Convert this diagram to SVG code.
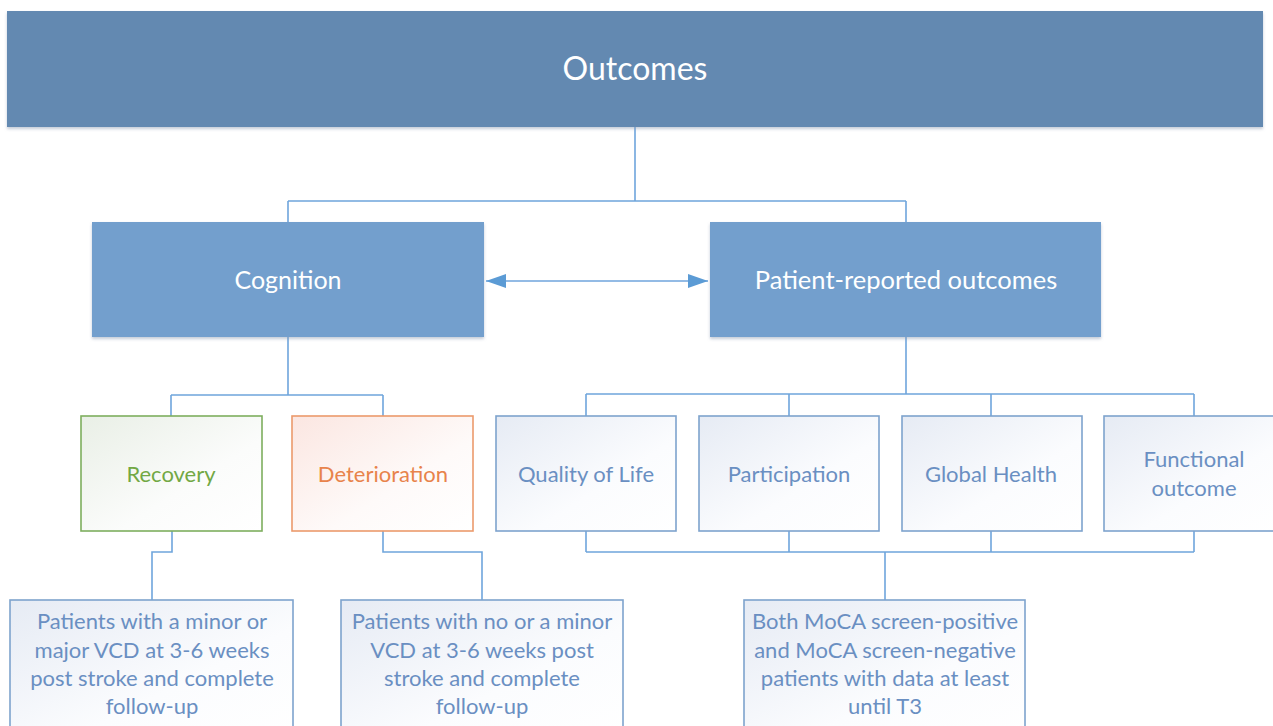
<svg xmlns="http://www.w3.org/2000/svg" width="1273" height="726" viewBox="0 0 1273 726">
  <defs>
    <linearGradient id="gBlue" x1="0" y1="0" x2="1" y2="1">
      <stop offset="0" stop-color="#e6ebf4"/>
      <stop offset="0.6" stop-color="#fbfcfe"/>
      <stop offset="1" stop-color="#ffffff"/>
    </linearGradient>
    <linearGradient id="gGreen" x1="0" y1="0" x2="1" y2="1">
      <stop offset="0" stop-color="#e9efe6"/>
      <stop offset="0.6" stop-color="#fbfcfb"/>
      <stop offset="1" stop-color="#ffffff"/>
    </linearGradient>
    <linearGradient id="gOrange" x1="0" y1="0" x2="1" y2="1">
      <stop offset="0" stop-color="#fbe6e1"/>
      <stop offset="0.6" stop-color="#fefaf9"/>
      <stop offset="1" stop-color="#ffffff"/>
    </linearGradient>
    <filter id="sh" x="-5%" y="-10%" width="110%" height="130%">
      <feDropShadow dx="0" dy="2" stdDeviation="1.5" flood-color="#8a9ab0" flood-opacity="0.5"/>
    </filter>
    <marker id="arr" viewBox="0 0 20 14" refX="20" refY="7" markerWidth="20" markerHeight="14" markerUnits="userSpaceOnUse" orient="auto-start-reverse">
      <path d="M0,0 L20,7 L0,14 z" fill="#5b9bd5"/>
    </marker>
  </defs>
  <style>
    .conn { fill: none; stroke: #6fa5dc; stroke-width: 1.6; }
    .t { font-family: Lato, "Open Sans", sans-serif; text-anchor: middle; }
    .hdr { fill: #ffffff; }
    .box { fill: url(#gBlue); stroke: #7ea3cd; stroke-width: 1.6; }
    .bt { fill: #6a8fc2; font-size: 22px; }
  </style>

  <g id="connectors">
    <path class="conn" d="M635,127 V201 M288,201 H906 M288,201 V222 M906,201 V222"/>
    <line class="conn" x1="486" y1="281" x2="708" y2="281" marker-start="url(#arr)" marker-end="url(#arr)" stroke="#5b9bd5"/>
    <path class="conn" d="M288,337 V395 M171,395 H383 M171,395 V416 M383,395 V416"/>
    <path class="conn" d="M906,337 V394 M586,394 H1194 M586,394 V416 M789,394 V416 M991,394 V416 M1194,394 V416"/>
    <path class="conn" d="M172,531 V552 H152 V600"/>
    <path class="conn" d="M383,531 V552 H482 V600"/>
    <path class="conn" d="M586,531 V552 M789,531 V552 M991,531 V552 M1194,531 V552 M586,552 H1194 M885,552 V600"/>
  </g>

  <g id="outcomes">
    <rect x="7" y="11" width="1256" height="116" fill="#6389b1" filter="url(#sh)"/>
    <text class="t hdr" x="635" y="80" font-size="32">Outcomes</text>
  </g>

  <g id="cognition">
    <rect x="92" y="222" width="392" height="115" fill="#739fcd" filter="url(#sh)"/>
    <text class="t hdr" x="288" y="289" font-size="25">Cognition</text>
  </g>

  <g id="pro">
    <rect x="710" y="222" width="391" height="115" fill="#739fcd" filter="url(#sh)"/>
    <text class="t hdr" x="906" y="289" font-size="25.5">Patient-reported outcomes</text>
  </g>

  <g id="recovery">
    <rect x="81" y="416" width="181" height="115" fill="url(#gGreen)" stroke="#7eae5e" stroke-width="1.6"/>
    <text class="t" x="171" y="482" font-size="22" fill="#72a844">Recovery</text>
  </g>

  <g id="deterioration">
    <rect x="292" y="416" width="181" height="115" fill="url(#gOrange)" stroke="#ec9a6c" stroke-width="1.6"/>
    <text class="t" x="383" y="482" font-size="22" fill="#e8834b">Deterioration</text>
  </g>

  <g id="qol">
    <rect class="box" x="496" y="416" width="180" height="115"/>
    <text class="t bt" x="586" y="482">Quality of Life</text>
  </g>

  <g id="participation">
    <rect class="box" x="699" y="416" width="180" height="115"/>
    <text class="t bt" x="789" y="482">Participation</text>
  </g>

  <g id="globalhealth">
    <rect class="box" x="902" y="416" width="180" height="115"/>
    <text class="t bt" x="991" y="482">Global Health</text>
  </g>

  <g id="functional">
    <rect class="box" x="1104" y="416" width="182" height="115"/>
    <text class="t bt" x="1194" y="467">Functional</text>
    <text class="t bt" x="1194" y="496">outcome</text>
  </g>

  <g id="recoverygroup">
    <rect class="box" x="10" y="600" width="283" height="140"/>
    <text class="t bt" x="152" y="629">Patients with a minor or</text>
    <text class="t bt" x="152" y="658">major VCD at 3-6 weeks</text>
    <text class="t bt" x="152" y="686">post stroke and complete</text>
    <text class="t bt" x="152" y="714">follow-up</text>
  </g>

  <g id="deteriorationgroup">
    <rect class="box" x="341" y="600" width="282" height="140"/>
    <text class="t bt" x="482" y="629">Patients with no or a minor</text>
    <text class="t bt" x="482" y="658">VCD at 3-6 weeks post</text>
    <text class="t bt" x="482" y="686">stroke and complete</text>
    <text class="t bt" x="482" y="714">follow-up</text>
  </g>

  <g id="mocagroup">
    <rect class="box" x="744" y="600" width="281" height="140"/>
    <text class="t bt" x="885" y="629">Both MoCA screen-positive</text>
    <text class="t bt" x="885" y="658">and MoCA screen-negative</text>
    <text class="t bt" x="885" y="686">patients with data at least</text>
    <text class="t bt" x="885" y="714">until T3</text>
  </g>
</svg>
